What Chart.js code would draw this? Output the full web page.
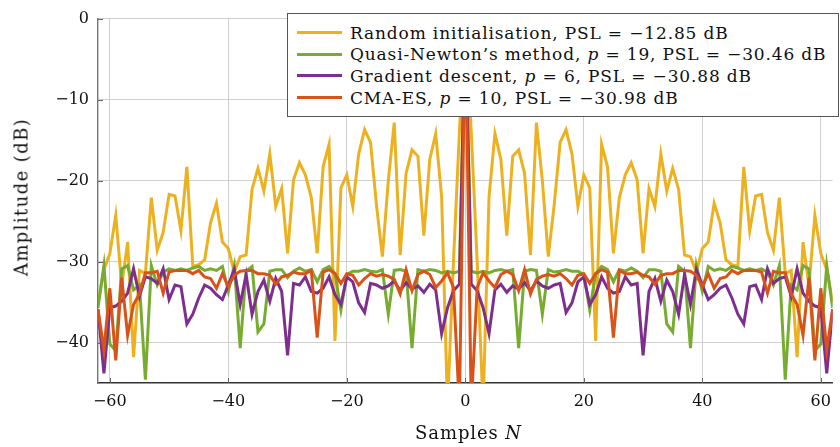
<!DOCTYPE html>
<html lang="en">
<head>
<meta charset="UTF-8">
<title>Sidelobe comparison</title>
<script src="https://cdn.jsdelivr.net/npm/chart.js"></script>
<style>
  body { margin: 0; background: #fff; font-family: "DejaVu Serif", serif; color: #111; }
  .wrap { position: relative; width: 840px; height: 447px; }
  #pslChart { position: absolute; left: 0; top: 0; }
  .legend { position: absolute; left: 287px; top: 13px; width: 552px; height: 104px; box-sizing: border-box;
            border: 1px solid #555; background: #fff; padding-top: 8px; }
  .legend .row { height: 21.6px; display: flex; align-items: center; font-size: 17px; letter-spacing: 0.85px; white-space: nowrap; }
  .legend .swatch { display: inline-block; flex: none; width: 45px; height: 3px; margin-left: 9px; margin-right: 8px; }
  .xtitle { position: absolute; left: 98px; width: 741px; top: 423px; line-height: 20px; text-align: center; font-size: 18px; letter-spacing: 0.9px; }
  .ytitle { position: absolute; left: 21px; top: 197px; font-size: 18px; letter-spacing: 1.4px; white-space: nowrap;
            transform: translate(-50%, -50%) rotate(-90deg); }
</style>
</head>
<body>
<div class="wrap">
  <canvas id="pslChart" width="840" height="447"></canvas>
  <div class="legend">
    <div class="row"><span class="swatch" style="background:#EDB120"></span><span>Random initialisation, PSL = −12.85 dB</span></div>
    <div class="row"><span class="swatch" style="background:#77AC30"></span><span>Quasi-Newton’s method, <i>p</i> = 19, PSL = −30.46 dB</span></div>
    <div class="row"><span class="swatch" style="background:#7E2F8E"></span><span>Gradient descent, <i>p</i> = 6, PSL = −30.88 dB</span></div>
    <div class="row"><span class="swatch" style="background:#D95319"></span><span>CMA-ES, <i>p</i> = 10, PSL = −30.98 dB</span></div>
  </div>
  <div class="xtitle">Samples <i>N</i></div>
  <div class="ytitle">Amplitude (dB)</div>
</div>

<script>
// lag axis
const lags = [-62, -61, -60, -59, -58, -57, -56, -55, -54, -53, -52, -51, -50, -49, -48, -47,
  -46, -45, -44, -43, -42, -41, -40, -39, -38, -37, -36, -35, -34, -33, -32, -31,
  -30, -29, -28, -27, -26, -25, -24, -23, -22, -21, -20, -19, -18, -17, -16,
  -15, -14, -13, -12, -11, -10, -9, -8, -7, -6, -5, -4, -3, -2, -1,
  0,
  1, 2, 3, 4, 5, 6, 7, 8, 9, 10, 11, 12, 13, 14, 15,
  16, 17, 18, 19, 20, 21, 22, 23, 24, 25, 26, 27, 28, 29, 30,
  31, 32, 33, 34, 35, 36, 37, 38, 39, 40, 41, 42, 43, 44, 45, 46,
  47, 48, 49, 50, 51, 52, 53, 54, 55, 56, 57, 58, 59, 60, 61, 62];

// amplitude (dB) per lag
const randomInit = [-35, -31, -29, -24.3, -33, -27.6, -41.8, -31.1, -31.5, -22.1, -28.6, -26.4, -21.7, -21.9, -26.2, -18.3,
  -30.6, -30.4, -29.8, -25.2, -22.8, -27.6, -28.4, -31.3, -29.4, -29.2, -21.1, -18.5, -21.3, -16.7, -23.2, -21,
  -29, -19.9, -17.8, -19.3, -22.1, -29, -18.3, -15.5, -39.8, -20.9, -19.3, -23.2, -16.7, -13.7, -15.3,
  -23, -29.4, -20, -12.85, -29.2, -19.1, -16.2, -17, -26.8, -17.4, -14.2, -22, -48, -30, -14,
  0,
  -14, -30, -48, -22, -14.2, -17.4, -26.8, -17, -16.2, -19.1, -29.2, -12.85, -20, -29.4, -23,
  -15.3, -13.7, -16.7, -23.2, -19.3, -20.9, -39.8, -15.5, -18.3, -29, -22.1, -19.3, -17.8, -19.9, -29,
  -21, -23.2, -16.7, -21.3, -18.5, -21.1, -29.2, -29.4, -31.3, -28.4, -27.6, -22.8, -25.2, -29.8, -30.4, -30.6,
  -18.3, -26.2, -21.9, -21.7, -26.4, -28.6, -22.1, -31.5, -31.1, -41.8, -27.6, -33, -24.3, -29, -31, -35];

const quasiNewton = [-35.7, -30.5, -40.2, -41, -30.9, -30.5, -33.5, -32.9, -44.6, -30.5, -32.9, -31.3, -30.9, -31.1, -30.9, -31.1,
  -30.8, -30.6, -31.1, -30.9, -31.1, -30.6, -33.7, -30.5, -40.7, -31.2, -30.6, -38.7, -37.7, -31.2, -31, -31,
  -32, -31.2, -30.8, -31.2, -31, -32.5, -31, -30.6, -31.5, -36, -31.6, -31.2, -31.2, -31, -31.2,
  -31.3, -31, -36.5, -31.1, -31, -31.2, -40.7, -31, -31.2, -31, -31.1, -31.4, -31.2, -31.4, -31.2,
  0,
  -31.2, -31.4, -31.2, -31.4, -31.1, -31, -31.2, -31, -40.7, -31.2, -31, -31.1, -36.5, -31, -31.3,
  -31.2, -31, -31.2, -31.2, -31.6, -36, -31.5, -30.6, -31, -32.5, -31, -31.2, -30.8, -31.2, -32,
  -31, -31, -31.2, -37.7, -38.7, -30.6, -31.2, -40.7, -30.5, -33.7, -30.6, -31.1, -30.9, -31.1, -30.6, -30.8,
  -31.1, -30.9, -31.1, -30.9, -31.3, -32.9, -30.5, -44.6, -32.9, -33.5, -30.5, -30.9, -41, -40.2, -30.5, -35.7];

const gradDescent = [-35.9, -43.8, -35.7, -35.5, -34.9, -33.9, -30.9, -34.3, -31.9, -32.1, -32.7, -30.9, -34.7, -32.9, -33.1, -37.7,
  -36.5, -34.5, -32.9, -33.3, -34.1, -34.7, -32.9, -31, -35.3, -31.6, -36.5, -33.7, -32.3, -34.9, -32.1, -33.7,
  -41.6, -32.7, -32.9, -31.9, -33.7, -33.9, -33.3, -31.9, -34.1, -35.3, -31.9, -32.5, -35.1, -36.3, -32.7,
  -32.9, -33.3, -33, -32.4, -33.6, -32.6, -33.4, -33, -33.8, -32.8, -33.5, -38.9, -35.7, -33.6, -32.8,
  0,
  -32.8, -33.6, -35.7, -38.9, -33.5, -32.8, -33.8, -33, -33.4, -32.6, -33.6, -32.4, -33, -33.3, -32.9,
  -32.7, -36.3, -35.1, -32.5, -31.9, -35.3, -34.1, -31.9, -33.3, -33.9, -33.7, -31.9, -32.9, -32.7, -41.6,
  -33.7, -32.1, -34.9, -32.3, -33.7, -36.5, -31.6, -35.3, -31, -32.9, -34.7, -34.1, -33.3, -32.9, -34.5, -36.5,
  -37.7, -33.1, -32.9, -34.7, -30.9, -32.7, -32.1, -31.9, -34.3, -30.9, -33.9, -34.9, -35.5, -35.7, -43.8, -35.9];

const cmaEs = [-35.9, -40.9, -33.3, -42.2, -32, -39.1, -35.3, -34, -31.4, -31.4, -31.2, -33.9, -31.3, -31.1, -31.1, -31.1,
  -31.5, -31.1, -31.9, -32.1, -33.3, -31.5, -33.1, -31.7, -31.2, -31.1, -31.1, -31.5, -31.5, -31.7, -32.8, -31.9,
  -31.7, -31.3, -31.5, -31.5, -31.1, -39.4, -31.3, -31, -31.5, -32.7, -31.5, -31.7, -32.9, -32.1, -31.5,
  -31.8, -31.6, -31.8, -32.2, -34, -31, -33.6, -31.6, -31.2, -31.6, -33.2, -32.4, -31.4, -33.2, -48,
  0,
  -48, -33.2, -31.4, -32.4, -33.2, -31.6, -31.2, -31.6, -33.6, -31, -34, -32.2, -31.8, -31.6, -31.8,
  -31.5, -32.1, -32.9, -31.7, -31.5, -32.7, -31.5, -31, -31.3, -39.4, -31.1, -31.5, -31.5, -31.3, -31.7,
  -31.9, -32.8, -31.7, -31.5, -31.5, -31.1, -31.1, -31.2, -31.7, -33.1, -31.5, -33.3, -32.1, -31.9, -31.1, -31.5,
  -31.1, -31.1, -31.1, -31.3, -33.9, -31.2, -31.4, -31.4, -34, -35.3, -39.1, -32, -42.2, -33.3, -40.9, -35.9];

const seriesNames = ['Random initialisation', 'Quasi-Newton method', 'Gradient descent', 'CMA-ES'];
const seriesColors = ['#EDB120', '#77AC30', '#7E2F8E', '#D95319'];
const seriesData = [randomInit, quasiNewton, gradDescent, cmaEs];

const serif = 'DejaVu Serif';
const minus = v => String(v).replace('-', '\u2212');

const datasets = seriesData.map((vals, k) => ({
    label: seriesNames[k],
    data: lags.map((n, i) => ({ x: n, y: vals[i] })),
    borderColor: seriesColors[k],
    borderWidth: 3,
    pointRadius: 0,
    tension: 0,
    fill: false,
    clip: 0,
    order: seriesData.length - 1 - k   // last series drawn on top
}));

// short tick marks pointing into the plot, like pgfplots
const innerTicks = {
    id: 'innerTicks',
    afterDraw(chart) {
        const { ctx, chartArea: a, scales: { x, y } } = chart;
        ctx.save();
        ctx.strokeStyle = '#666';
        ctx.lineWidth = 1;
        ctx.beginPath();
        x.ticks.forEach(t => {
            const px = Math.round(x.getPixelForValue(t.value)) + 0.5;
            ctx.moveTo(px, a.bottom);
            ctx.lineTo(px, a.bottom - 5);
        });
        y.ticks.forEach(t => {
            const py = Math.round(y.getPixelForValue(t.value)) + 0.5;
            ctx.moveTo(a.left, py);
            ctx.lineTo(a.left + 5, py);
        });
        ctx.stroke();
        ctx.restore();
    }
};

new Chart(document.getElementById('pslChart'), {
    type: 'line',
    data: { datasets: datasets },
    options: {
        responsive: false,
        animation: false,
        devicePixelRatio: 1,
        layout: { padding: { top: 13, right: 1, left: 0, bottom: 0 } },
        plugins: { legend: { display: false }, tooltip: { enabled: false } },
        scales: {
            x: {
                type: 'linear',
                min: -62,
                max: 62,
                afterFit: s => { s.height = 64; },
                ticks: { stepSize: 20, includeBounds: false, maxRotation: 0, padding: 9,
                         color: '#111', font: { family: serif, size: 16 }, callback: minus },
                grid: { color: '#cfcfcf', lineWidth: 1, drawTicks: false },
                border: { color: '#333', width: 1.4 }
            },
            y: {
                min: -45,
                max: 0,
                afterFit: s => { s.width = 98; },
                ticks: { stepSize: 10, includeBounds: false, padding: 9,
                         color: '#111', font: { family: serif, size: 16 }, callback: minus },
                grid: { color: '#cfcfcf', lineWidth: 1, drawTicks: false },
                border: { color: '#777', width: 1.4 }
            }
        }
    },
    plugins: [innerTicks]
});
</script>
</body>
</html>
